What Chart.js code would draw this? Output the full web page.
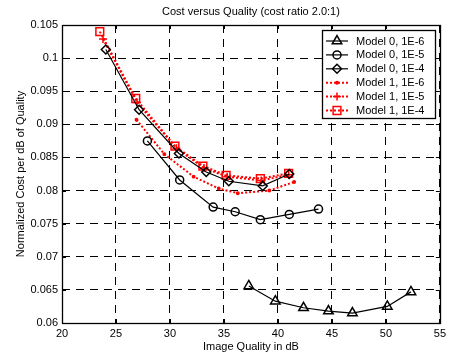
<!DOCTYPE html>
<html>
<head>
<meta charset="utf-8">
<script src="https://cdn.jsdelivr.net/npm/chart.js@4/dist/chart.umd.min.js"></script>
<style>
  html, body { margin: 0; padding: 0; background: #fff; }
  #wrap { width: 450px; height: 358px; }
</style>
</head>
<body>
<div id="wrap"><canvas id="myChart" width="450" height="358"></canvas></div>
<script>
const xTicks = [20, 25, 30, 35, 40, 45, 50, 55];
const yTicks = [0.06, 0.065, 0.07, 0.075, 0.08, 0.085, 0.09, 0.095, 0.1, 0.105];

const seriesLabels = ['Model 0, 1E-6', 'Model 0, 1E-5', 'Model 0, 1E-4',
                      'Model 1, 1E-6', 'Model 1, 1E-5', 'Model 1, 1E-4'];

const m0e6X = [37.3, 39.76, 42.37, 44.68, 46.9, 50.13, 52.32];
const m0e6Y = [0.0656, 0.0633, 0.0623, 0.0618, 0.0615, 0.0625, 0.0647];
const m0e5X = [27.91, 30.9, 34.0, 36.04, 38.37, 41.05, 43.76];
const m0e5Y = [0.0875, 0.0816, 0.0775, 0.0768, 0.0756, 0.0764, 0.0772];
const m0e4X = [24.06, 27.14, 30.83, 33.36, 35.45, 38.59, 41.05];
const m0e4Y = [0.1013, 0.0922, 0.0856, 0.0828, 0.0814, 0.0807, 0.0825];
const m1e6X = [26.9, 29.48, 32.19, 34.52, 36.28, 39.2, 41.5];
const m1e6Y = [0.0907, 0.0855, 0.0821, 0.0803, 0.0796, 0.08, 0.0813];
const m1e5X = [23.8, 26.95, 30.6, 33.15, 35.3, 38.45, 41.0];
const m1e5Y = [0.1029, 0.0933, 0.0864, 0.0834, 0.0821, 0.0815, 0.0824];
const m1e4X = [23.5, 26.83, 30.46, 33.05, 35.2, 38.37, 40.99];
const m1e4Y = [0.104, 0.0939, 0.0867, 0.0837, 0.0823, 0.0818, 0.0826];

const FONT = "'Liberation Sans', Arial, sans-serif";
Chart.defaults.font.family = FONT;
Chart.defaults.font.size = 11;
Chart.defaults.color = '#000';

function pts(xs, ys) {
    return xs.map((x, i) => ({ x: x, y: ys[i] }));
}

function blackSeries(label, xs, ys, style, r) {
    return {
        label: label,
        data: pts(xs, ys),
        borderColor: '#000',
        borderWidth: 1.2,
        pointStyle: style,
        pointRadius: r,
        pointBorderColor: '#000',
        pointBackgroundColor: 'rgba(0,0,0,0)',
        pointBorderWidth: 1.5,
        tension: 0
    };
}

function redSeries(label, xs, ys, style, r, fill) {
    return {
        label: label,
        data: pts(xs, ys),
        borderColor: '#ff0000',
        borderWidth: 2,
        borderDash: [2, 2],
        pointStyle: style,
        pointRadius: r,
        pointBorderColor: '#ff0000',
        pointBackgroundColor: fill ? '#ff0000' : 'rgba(0,0,0,0)',
        pointBorderWidth: 1.5,
        tension: 0
    };
}

// box, inward ticks and legend drawn on top of the plot
const matlabFrame = {
    id: 'matlabFrame',
    afterDatasetsDraw(chart) {
        const ctx = chart.ctx;
        const a = chart.chartArea;
        const sx = chart.scales.x, sy = chart.scales.y;
        ctx.save();
        ctx.strokeStyle = '#000';
        ctx.lineWidth = 1;
        ctx.setLineDash([]);
        ctx.beginPath();
        sx.ticks.forEach(t => {
            const px = Math.round(sx.getPixelForValue(t.value)) + 0.5;
            ctx.moveTo(px, a.bottom); ctx.lineTo(px, a.bottom - 4);
            ctx.moveTo(px, a.top); ctx.lineTo(px, a.top + 4);
        });
        sy.ticks.forEach(t => {
            const py = Math.round(sy.getPixelForValue(t.value)) + 0.5;
            ctx.moveTo(a.left, py); ctx.lineTo(a.left + 4, py);
            ctx.moveTo(a.right, py); ctx.lineTo(a.right - 4, py);
        });
        ctx.stroke();
        ctx.lineWidth = 1.3;
        ctx.strokeRect(Math.round(a.left) + 0.5, Math.round(a.top) + 0.5,
                       Math.round(a.right - a.left), Math.round(a.bottom - a.top));

        // legend
        const lx = 322.5, ly = 30.5, lw = 113, lh = 88;
        ctx.fillStyle = '#fff';
        ctx.fillRect(lx, ly, lw, lh);
        ctx.strokeRect(lx, ly, lw, lh);
        ctx.font = '11px ' + FONT;
        ctx.textBaseline = 'middle';
        chart.data.datasets.forEach((ds, i) => {
            const y = 41 + i * 13.9;
            ctx.strokeStyle = ds.borderColor;
            ctx.lineWidth = ds.borderWidth;
            ctx.setLineDash(ds.borderDash || []);
            ctx.beginPath();
            ctx.moveTo(326, y); ctx.lineTo(348, y);
            ctx.stroke();
            ctx.setLineDash([]);
            ctx.lineWidth = ds.pointBorderWidth;
            ctx.fillStyle = ds.pointBackgroundColor;
            if (Chart.helpers && Chart.helpers.drawPoint) {
                Chart.helpers.drawPoint(ctx, {
                    pointStyle: ds.pointStyle, radius: ds.pointRadius,
                    rotation: 0, borderWidth: ds.pointBorderWidth
                }, 337, y);
            } else {
                ctx.beginPath();
                ctx.arc(337, y, ds.pointRadius, 0, Math.PI * 2);
                ctx.fill(); ctx.stroke();
            }
            ctx.fillStyle = '#000';
            ctx.fillText(ds.label, 356, y + 0.5);
        });
        ctx.restore();
    }
};

const config = {
    type: 'line',
    data: {
        datasets: [
            blackSeries(seriesLabels[0], m0e6X, m0e6Y, 'triangle', 5.5),
            blackSeries(seriesLabels[1], m0e5X, m0e5Y, 'circle', 4),
            blackSeries(seriesLabels[2], m0e4X, m0e4Y, 'rectRot', 4.5),
            redSeries(seriesLabels[3], m1e6X, m1e6Y, 'circle', 1.2, true),
            redSeries(seriesLabels[4], m1e5X, m1e5Y, 'cross', 4, false),
            redSeries(seriesLabels[5], m1e4X, m1e4Y, 'rect', 5.5, false)
        ]
    },
    options: {
        responsive: false,
        animation: false,
        events: [],
        layout: { padding: { left: 0, right: 9, top: 0, bottom: 0 } },
        plugins: {
            legend: { display: false },
            tooltip: { enabled: false },
            title: {
                display: true,
                fullSize: false,
                text: 'Cost versus Quality (cost ratio 2.0:1)',
                font: { size: 11, weight: 'normal' },
                color: '#000',
                padding: { top: 5, bottom: 6.8 }
            }
        },
        scales: {
            x: {
                type: 'linear',
                min: 20,
                max: 55,
                afterBuildTicks: s => { s.ticks = xTicks.map(v => ({ value: v })); },
                afterFit: s => { s.height = 35; },
                ticks: { color: '#000', padding: 4, maxRotation: 0, autoSkip: false,
                         callback: v => String(v) },
                grid: { color: '#000', lineWidth: 1, drawTicks: false },
                border: { display: false, dash: [8, 6] },
                title: { display: true, text: 'Image Quality in dB', color: '#000',
                         font: { size: 11 }, padding: { top: 0, bottom: 4.4 } }
            },
            y: {
                type: 'linear',
                min: 0.06,
                max: 0.105,
                afterBuildTicks: s => { s.ticks = yTicks.map(v => ({ value: v })); },
                afterFit: s => { s.width = 62; },
                ticks: { color: '#000', padding: 4, autoSkip: false,
                         callback: v => String(v) },
                grid: { color: '#000', lineWidth: 1, drawTicks: false },
                border: { display: false, dash: [8, 6] },
                title: { display: true, text: 'Normalized Cost per dB of Quality', color: '#000',
                         font: { size: 11 }, padding: { top: 14.4, bottom: 0 } }
            }
        }
    },
    plugins: [matlabFrame]
};

const myChart = new Chart(document.getElementById('myChart'), config);
</script>
</body>
</html>
